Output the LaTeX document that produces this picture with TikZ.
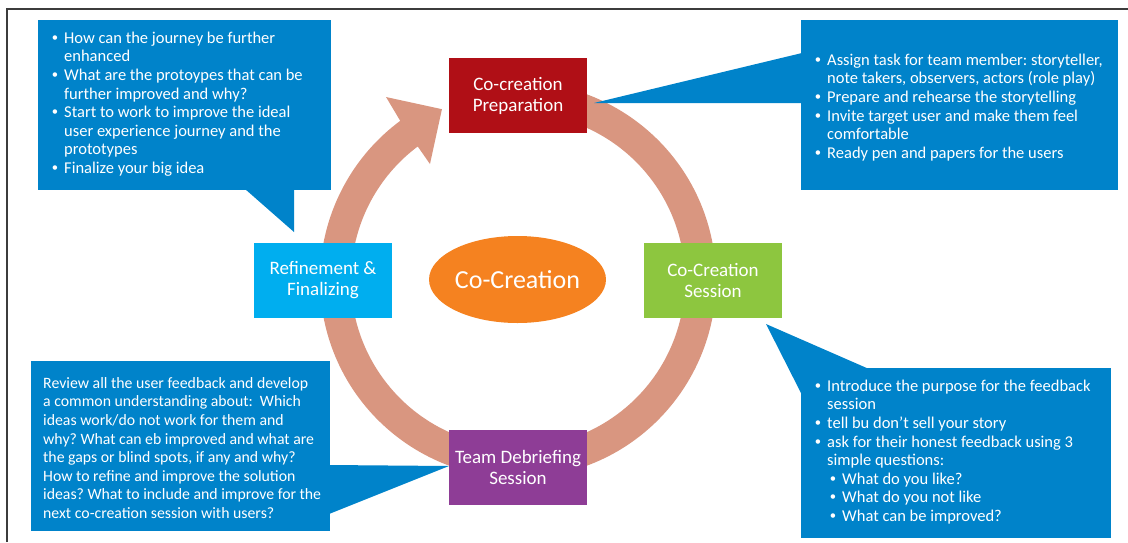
\documentclass[tikz,border=0pt]{standalone}
\usepackage{fontspec}
\setmainfont{Carlito}
\newfontfamily\bulfont{Liberation Sans}
\usetikzlibrary{shapes.geometric}
\definecolor{calloutblue}{RGB}{0,131,202}
\definecolor{ringcol}{RGB}{217,150,128}
\definecolor{prepred}{RGB}{176,15,22}
\definecolor{sessgreen}{RGB}{141,198,63}
\definecolor{debpurple}{RGB}{142,61,150}
\definecolor{refcyan}{RGB}{0,174,239}
\definecolor{centorange}{RGB}{245,130,32}
\definecolor{framecol}{RGB}{60,60,60}
\newcommand{\bu}{\makebox[12pt][l]{{\bulfont •}}}
\newcommand{\ind}{\hspace*{12pt}}
\newcommand{\sbu}{\hspace*{15pt}\makebox[12pt][l]{{\bulfont •}}}
\newcommand{\firstln}{\rule{0pt}{13pt}}
\frenchspacing
\begin{document}
\begin{tikzpicture}[x=1pt,y=-1pt,
  stagebox/.style={rectangle, minimum width=138pt, minimum height=75pt, inner sep=0pt,
    text=white, align=center, font=\fontsize{19}{21}\selectfont},
  calloutrect/.style={rectangle, fill=calloutblue, anchor=north west, inner sep=0pt},
  callouttail/.style={fill=calloutblue},
  callouttext/.style={anchor=north west, inner sep=0pt, text=white, align=left,
    font=\fontsize{16.5}{18.6}\selectfont\frenchspacing},
  ringfill/.style={fill=ringcol}]
\useasboundingbox (0,0) rectangle (1128,542);
% frame
\draw[framecol, line width=1.3pt] (7,542) -- (7,9) -- (1128,9);
% circular arrow
\begin{scope}[shift={(518,280)}, y=1pt]
  \fill[ringfill] (100:198) arc[start angle=100, end angle=-233.5, radius=198]
    -- (125.8:225.6) -- (114:187) -- (127.2:145.6) -- (-233.1:167)
    arc[start angle=-233.1, end angle=100, radius=167] -- cycle;
\end{scope}
% stage boxes
\node[stagebox, fill=prepred] (prep) at (518,95.5) {Co-creation\\Preparation};
\node[stagebox, fill=sessgreen] (sess) at (713,280.5) {Co-Creation\\Session};
\node[stagebox, fill=debpurple] (deb) at (518,467.5) {Team Debriefing\\Session};
\node[stagebox, fill=refcyan] (ref) at (323,280.5) {Refinement \&\\Finalizing};
\node[ellipse, fill=centorange, minimum width=151pt, minimum height=87pt, inner sep=0pt,
  text=white, font=\fontsize{26}{30}\selectfont] (core) at (517.5,279.5) {Co-Creation};
% callouts
\coordinate (tipTL) at (294,232);
\coordinate (tipTR) at (594,103);
\coordinate (tipBL) at (449,466);
\coordinate (tipBR) at (766,324);
\node[calloutrect, minimum width=293pt, minimum height=170pt] (cTL) at (38,20) {};
\fill[callouttail] (245,189) -- (tipTL) -- (294,189) -- cycle;
\node[calloutrect, minimum width=317pt, minimum height=170pt] (cTR) at (801,20) {};
\fill[callouttail] (802,53) -- (tipTR) -- (802,103) -- cycle;
\node[calloutrect, minimum width=299pt, minimum height=170pt] (cBL) at (31,361) {};
\fill[callouttail] (329,465) -- (tipBL) -- (329,514) -- cycle;
\node[calloutrect, minimum width=310pt, minimum height=170pt] (cBR) at (801,368) {};
\fill[callouttail] (869,369) -- (tipBR) -- (802,395) -- cycle;
% callout texts
\node[callouttext] (xTL) at (52,30) {\firstln\bu How can the journey be further\\
\ind enhanced\\
\bu What are the protoypes that can be\\
\ind further improved and why?\\
\bu Start to work to improve the ideal\\
\ind user experience journey and the\\
\ind prototypes\\
\bu Finalize your big idea};
\node[callouttext] (xTR) at (815,52) {\firstln\bu Assign task for team member: storyteller,\\
\ind note takers, observers, actors (role play)\\
\bu Prepare and rehearse the storytelling\\
\bu Invite target user and make them feel\\
\ind comfortable\\
\bu Ready pen and papers for the users};
\node[callouttext, font=\fontsize{15.8}{18.6}\selectfont\frenchspacing] (xBL) at (43,375) {\firstln Review all the user feedback and develop\\
a common understanding about:\ \ Which\\
ideas work/do not work for them and\\
why? What can eb improved and what are\\
the gaps or blind spots, if any and why?\\
How to refine and improve the solution\\
ideas? What to include and improve for the\\
next co-creation session with users?};
\node[callouttext] (xBR) at (815,378) {\firstln\bu Introduce the purpose for the feedback\\
\ind session\\
\bu tell bu don’t sell your story\\
\bu ask for their honest feedback using 3\\
\ind simple questions:\\
\sbu What do you like?\\
\sbu What do you not like\\
\sbu What can be improved?};
\end{tikzpicture}
\end{document}
